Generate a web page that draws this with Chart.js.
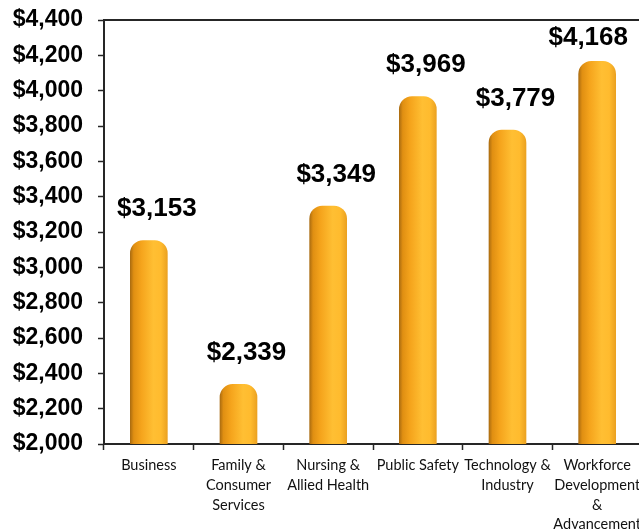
<!DOCTYPE html>
<html>
<head>
<meta charset="utf-8">
<script src="https://cdn.jsdelivr.net/npm/chart.js@4/dist/chart.umd.min.js"></script>
<style>
  html, body { margin: 0; padding: 0; background: #fff; overflow: hidden; width: 639px; height: 532px; }
  canvas { display: block; }
</style>
</head>
<body>
<canvas id="cost-chart" width="660" height="532"></canvas>
<script>
(function () {
    if (typeof Chart === 'undefined') return;

    var categories = [
        ['Business'],
        ['Family &', 'Consumer', 'Services'],
        ['Nursing &', 'Allied Health'],
        ['Public Safety'],
        ['Technology &', 'Industry'],
        ['Workforce', 'Development', '&', 'Advancement']
    ];
    var costs = [3153, 2339, 3349, 3969, 3779, 4168];
    var yMin = 2000, yMax = 4400, yStep = 200;

    var axisInk = '#262626';

    function money(v) {
        return '$' + Number(v).toLocaleString('en-US');
    }

    // cylinder-style shading across each bar
    function barShade(ctx) {
        var chart = ctx.chart;
        var x = chart.scales.x;
        if (!x || !chart.chartArea) return '#f5a623';
        var cx = x.getPixelForValue(ctx.dataIndex);
        var w = (x.width / categories.length) * 0.42;
        var g = chart.ctx.createLinearGradient(cx - w / 2, 0, cx + w / 2, 0);
        g.addColorStop(0.00, '#a86a10');
        g.addColorStop(0.10, '#e08f12');
        g.addColorStop(0.30, '#f5a41c');
        g.addColorStop(0.62, '#ffbf33');
        g.addColorStop(0.82, '#ffbb2e');
        g.addColorStop(1.00, '#eaa020');
        return g;
    }

    // value labels sit a little right of and above each bar, kept inside the page
    var valueLabels = {
        id: 'valueLabels',
        afterDatasetsDraw: function (chart) {
            var c = chart.ctx;
            var a = chart.chartArea;
            var meta = chart.getDatasetMeta(0);
            c.save();
            c.font = 'bold 26px "Liberation Sans", Arial, sans-serif';
            c.fillStyle = '#000';
            c.textAlign = 'center';
            c.textBaseline = 'middle';
            meta.data.forEach(function (el, i) {
                var txt = money(costs[i]);
                var half = c.measureText(txt).width / 2;
                var x = Math.min(el.x + 8, 628 - half);
                var y = Math.max(el.y - 31, a.top + 18);
                c.fillText(txt, x, y);
            });
            c.restore();
        }
    };

    var topFrame = {
        id: 'topFrame',
        beforeDatasetsDraw: function (chart) {
            var a = chart.chartArea, c = chart.ctx;
            c.save();
            c.strokeStyle = axisInk;
            c.lineWidth = 2;
            c.beginPath();
            c.moveTo(a.left, a.top);
            c.lineTo(a.right, a.top);
            c.lineTo(a.right, a.bottom);
            c.stroke();
            c.restore();
        }
    };

    new Chart(document.getElementById('cost-chart').getContext('2d'), {
        type: 'bar',
        data: {
            labels: categories,
            datasets: [{
                data: costs,
                backgroundColor: barShade,
                borderWidth: 0,
                borderRadius: { topLeft: 13, topRight: 13, bottomLeft: 0, bottomRight: 0 },
                borderSkipped: 'start',
                barPercentage: 0.42,
                categoryPercentage: 1
            }]
        },
        plugins: [topFrame, valueLabels],
        options: {
            responsive: false,
            animation: false,
            layout: { padding: { top: 20, right: 18, left: 0, bottom: 0 } },
            plugins: { legend: { display: false }, tooltip: { enabled: false } },
            scales: {
                x: {
                    grid: { drawOnChartArea: false, offset: true, tickLength: 6, color: axisInk, tickWidth: 1.5 },
                    border: { color: axisInk, width: 2 },
                    ticks: {
                        color: '#111',
                        font: { family: 'Lato, "Open Sans", sans-serif', size: 14.5, lineHeight: 1.35 },
                        padding: 6,
                        maxRotation: 0,
                        autoSkip: false
                    },
                    afterFit: function (s) { s.height = 88; s.paddingLeft = 0; s.paddingRight = 0; }
                },
                y: {
                    min: yMin,
                    max: yMax,
                    grid: { drawOnChartArea: false, tickLength: 6, color: axisInk, tickWidth: 1.5 },
                    border: { color: axisInk, width: 2 },
                    ticks: {
                        stepSize: yStep,
                        color: '#000',
                        padding: 15,
                        font: { family: '"Liberation Sans", Arial, sans-serif', size: 23, weight: 'bold' },
                        callback: function (v) { return money(v); }
                    },
                    afterFit: function (s) { s.width = 104; s.paddingTop = 0; s.paddingBottom = 0; }
                }
            }
        }
    });
})();
</script>
</body>
</html>
